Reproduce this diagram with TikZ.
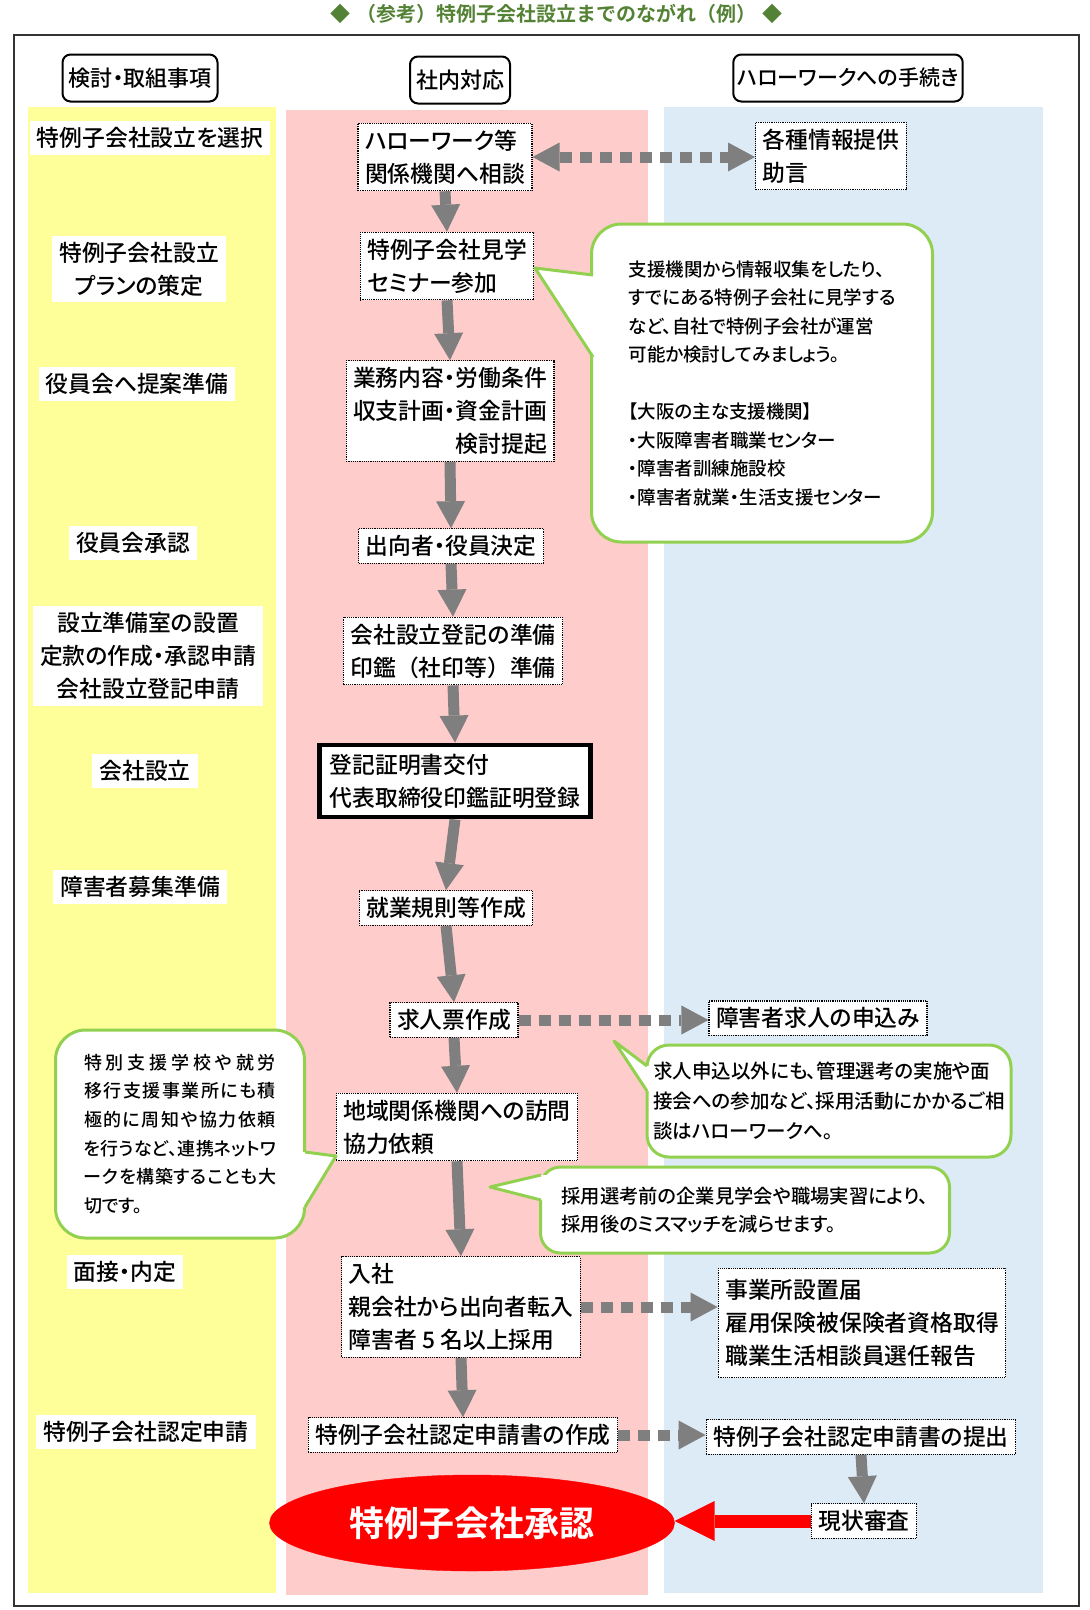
\documentclass[tikz,border=0pt]{standalone}
\usepackage{fontspec}
\setmainfont{Noto Sans CJK JP}[UprightFont={* Medium}, BoldFont={* Bold}, RawFeature=+palt]
\newfontfamily\fulljp{Noto Sans CJK JP}[UprightFont={* Medium}, BoldFont={* Bold}]
\usetikzlibrary{arrows.meta,shapes.geometric}
\definecolor{colyellow}{HTML}{FFFF99}
\definecolor{colpink}{HTML}{FFCCCC}
\definecolor{colblue}{HTML}{DDEBF7}
\definecolor{notegreen}{HTML}{92D050}
\definecolor{titlegreen}{HTML}{548235}
\definecolor{arrowgray}{HTML}{7F7F7F}
\newcommand\spreadline[2]{\makebox[#1][s]{\spreadfirst#2\relax}}
\def\spreadfirst#1{#1\spreadrest}
\def\spreadrest#1{\ifx#1\relax\else\hfil#1\expandafter\spreadrest\fi}
\begin{document}
\begin{tikzpicture}[x=1pt, y=-1pt, >={Triangle[width=29pt,length=27pt,line width=0pt]},
		head/.style = {draw, rounded corners=8pt, line width=2pt, fill=white, minimum height=47pt, inner xsep=6pt, font=\fontsize{22}{33}\selectfont},
		lab/.style = {fill=white, inner xsep=7pt, inner ysep=6pt, align=center, font=\fontsize{22.8}{33}\selectfont},
		box/.style = {draw, densely dotted, line width=1.2pt, fill=white, inner xsep=7pt, inner ysep=6.5pt, align=left, font=\fontsize{22.8}{33}\selectfont},
		note/.style = {draw=notegreen, line width=3pt, fill=white, align=left, inner sep=0pt},
		tail/.style = {draw=notegreen, line width=3pt, line join=round},
		flow/.style = {->, draw=arrowgray, line width=11pt},
		link/.style = {flow, dash pattern=on 12pt off 8pt}]
			\useasboundingbox (0,0) rectangle (1090,1610);
			\fill[colyellow] (28,107) rectangle (276,1593);
			\fill[colpink] (286,110) rectangle (648,1595);
			\fill[colblue] (664,107) rectangle (1043,1593);
			\draw[line width=2pt, black!80] (14,35) rectangle (1079,1606);
			\node[font=\fulljp\fontsize{20}{24}\bfseries, text=titlegreen] (title) at (556,14) {◆\hspace{0.3em}（参考）特例子会社設立までのながれ（例）\hspace{0.3em}◆};
			\node[head] (h1) at (140,78) {検討・取組事項};
			\node[head] (h2) at (460,80) {社内対応};
			\node[head, inner xsep=4pt, font=\fontsize{21}{33}\selectfont] (h3) at (848,78) {ハローワークへの手続き};
			\node[lab] (l1) at (150,138) {特例子会社設立を選択};
			\node[lab] (l2) at (139,269) {特例子会社設立\\プランの策定};
			\node[lab] (l3) at (137,384) {役員会へ提案準備};
			\node[lab] (l4) at (133,543) {役員会承認};
			\node[lab] (l5) at (148,656) {設立準備室の設置\\定款の作成・承認申請\\会社設立登記申請};
			\node[lab] (l6) at (145,771) {会社設立};
			\node[lab] (l7) at (140,887) {障害者募集準備};
			\node[lab] (l8) at (125,1272) {面接・内定};
			\node[lab] (l9) at (146,1432) {特例子会社認定申請};
			\node[box] (c1) at (445,157) {ハローワーク等\\関係機関へ相談};
			\node[box] (c2) at (447,266) {特例子会社見学\\セミナー参加};
			\node[box, align=right] (c3) at (450,411) {業務内容・労働条件\\収支計画・資金計画\\検討提起};
			\node[box] (c4) at (451,546) {出向者・役員決定};
			\node[box, font=\fulljp\fontsize{22.8}{33}\selectfont] (c5) at (453,651) {会社設立登記の準備\\印鑑（社印等）準備};
			\node[box, solid, line width=4.5pt, inner xsep=10pt, inner ysep=9pt] (c6) at (455,781) {登記証明書交付\\代表取締役印鑑証明登録};
			\node[box] (c7) at (446,908) {就業規則等作成};
			\node[box] (c8) at (454,1020) {求人票作成};
			\node[box] (c9) at (457,1127) {地域関係機関への訪問\\協力依頼};
			\node[box] (c10) at (461,1307) {入社\\親会社から出向者転入\\障害者 5 名以上採用};
			\node[box] (c11) at (463,1435) {特例子会社認定申請書の作成};
			\node[box] (r1) at (831,156) {各種情報提供\\助言};
			\node[box] (r2) at (818,1018) {障害者求人の申込み};
			\node[box, inner ysep=11pt] (r3) at (862,1323) {事業所設置届\\雇用保険被保険者資格取得\\職業生活相談員選任報告};
			\node[box] (r4) at (861,1437) {特例子会社認定申請書の提出};
			\node[box] (r5) at (864,1521) {現状審査};
			\node[ellipse, fill=red, draw=red, minimum width=405pt, minimum height=96pt, text=white, font=\fontsize{35}{40}\bfseries] (e) at (472,1523) {特例子会社承認};
			\node[note, rounded corners=30pt, minimum width=341pt, minimum height=318pt, font=\fontsize{18.5}{28.5}\selectfont] (n1) at (762,383) {支援機関から情報収集をしたり、\\すでにある特例子会社に見学する\\など、自社で特例子会社が運営\\可能か検討してみましょう。\\[28.5pt]【大阪の主な支援機関】\\・大阪障害者職業センター\\・障害者訓練施設校\\・障害者就業・生活支援センター};
			\fill[white] (535,268) -- (593,275) -- (601,275) -- (601,357) -- (593,357) -- cycle;
			\draw[tail] (593,275) -- (535,268) -- (593,357);
			\node[note, rounded corners=30pt, minimum width=249pt, minimum height=208pt, font=\fontsize{18}{28.6}\selectfont] (n2) at (180,1134) {\spreadline{192pt}{特別支援学校や就労}\\\spreadline{192pt}{移行支援事業所にも積}\\\spreadline{192pt}{極的に周知や協力依頼}\\\spreadline{192pt}{を行うなど、連携ネットワ}\\\spreadline{192pt}{ークを構築することも大}\\切です。};
			\fill[white] (336,1156) -- (305,1152) -- (297,1152) -- (297,1207) -- (305,1207) -- cycle;
			\draw[tail] (305,1152) -- (336,1156) -- (305,1207);
			\node[note, rounded corners=22pt, minimum width=364pt, minimum height=112pt, font=\fontsize{19.5}{30}\selectfont] (n3) at (829,1101) {求人申込以外にも、管理選考の実施や面\\接会への参加など、採用活動にかかるご相\\談はハローワークへ。};
			\fill[white] (614,1041) -- (647,1066) -- (655,1066) -- (655,1091) -- (647,1091) -- cycle;
			\draw[tail] (647,1066) -- (614,1041) -- (647,1091);
			\node[note, rounded corners=20pt, minimum width=409pt, minimum height=86pt, font=\fontsize{19.3}{28}\selectfont] (n4) at (745,1210) {採用選考前の企業見学会や職場実習により、\\採用後のミスマッチを減らせます。};
			\fill[white] (490,1187) -- (541,1175) -- (549,1175) -- (549,1200) -- (541,1200) -- cycle;
			\draw[tail] (541,1175) -- (490,1187) -- (541,1200);
			\draw[flow] (c1.south) -- (c2.north);
			\draw[flow] (c2.south) -- (c3.north);
			\draw[flow] (c3.south) -- (c4.north);
			\draw[flow] (c4.south) -- (c5.north);
			\draw[flow] (c5.south) -- (c6.north);
			\draw[flow] (c6.south) -- (c7.north);
			\draw[flow] (c7.south) -- (c8.north);
			\draw[flow] (c8.south) -- (c9.north);
			\draw[flow] (c9.south) -- (c10.north);
			\draw[flow] (c10.south) -- (c11.north);
			\draw[link, <->] (c1.east) -- (c1.east -| r1.west);
			\draw[link] (c8.east) -- (c8.east -| r2.west);
			\draw[link] (c10.east) -- (c10.east -| r3.west);
			\draw[link] (c11.east) -- (c11.east -| r4.west);
			\draw[flow] (r4.south) -- (r5.north);
			\draw[line width=13pt, red, -{Triangle[width=40pt,length=40pt,line width=0pt]}] (r5.west) -- (r5.west -| e.east);
		\end{tikzpicture}
\end{document}
